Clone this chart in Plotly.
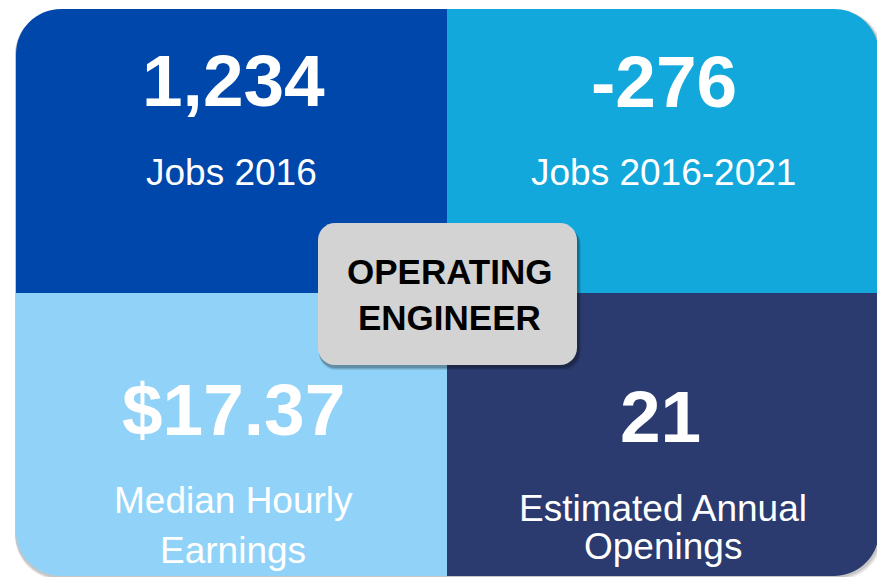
import plotly.graph_objects as go

# ---- data ----
values = ["1,234", "-276", "$17.37", "21"]
labels = [["Jobs 2016"], ["Jobs 2016-2021"], ["Median Hourly", "Earnings"], ["Estimated Annual", "Openings"]]
title_lines = ["OPERATING", "ENGINEER"]
colors = ["#0047AB", "#12A8DC", "#91D3F8", "#2B3B70"]

# ---- layout constants (page pixel space) ----
W, H = 885, 577
PAD = 8  # default page body margin
L, T, R, B = 16, 9, 879, 576
MX, MY = 447, 293
RAD = 45
K = 0.5523

FONT = "Liberation Sans, Arial, sans-serif"


def quad_path(x0, y0, x1, y1, corner, r):
    c = r * (1 - K)
    if corner == "tl":
        return (f"M {x0},{y1} L {x0},{y0+r} C {x0},{y0+c} {x0+c},{y0} {x0+r},{y0} "
                f"L {x1},{y0} L {x1},{y1} Z")
    if corner == "tr":
        return (f"M {x0},{y0} L {x1-r},{y0} C {x1-c},{y0} {x1},{y0+c} {x1},{y0+r} "
                f"L {x1},{y1} L {x0},{y1} Z")
    if corner == "bl":
        return (f"M {x0},{y0} L {x1},{y0} L {x1},{y1} L {x0+r},{y1} "
                f"C {x0+c},{y1} {x0},{y1-c} {x0},{y1-r} Z")
    return (f"M {x0},{y0} L {x1},{y0} L {x1},{y1-r} C {x1},{y1-c} {x1-c},{y1} {x1-r},{y1} "
            f"L {x0},{y1} Z")


def rrect(x0, y0, x1, y1, r):
    c = r * (1 - K)
    return (f"M {x0+r},{y0} L {x1-r},{y0} C {x1-c},{y0} {x1},{y0+c} {x1},{y0+r} "
            f"L {x1},{y1-r} C {x1},{y1-c} {x1-c},{y1} {x1-r},{y1} "
            f"L {x0+r},{y1} C {x0+c},{y1} {x0},{y1-c} {x0},{y1-r} "
            f"L {x0},{y0+r} C {x0},{y0+c} {x0+c},{y0} {x0+r},{y0} Z")


shapes = []
for off, a in [(4, 0.06), (3, 0.08), (2, 0.10)]:
    shapes.append(dict(type="path", path=rrect(L - 1, T + 1, R + off, B + off, RAD),
                       fillcolor=f"rgba(0,0,0,{a})", line=dict(width=0), layer="below"))

quads = [(L, T, MX, MY, "tl"), (MX, T, R, MY, "tr"), (L, MY, MX, B, "bl"), (MX, MY, R, B, "br")]
for (x0, y0, x1, y1, c), col in zip(quads, colors):
    shapes.append(dict(type="path", path=quad_path(x0, y0, x1, y1, c, RAD),
                       fillcolor=col, line=dict(width=0), layer="below"))

bx0, by0, bx1, by1 = 318, 223, 577, 365
for off, a in [(5, 0.10), (4, 0.12), (3, 0.15)]:
    shapes.append(dict(type="path", path=rrect(bx0 + 1, by0 + off, bx1 + off - 1, by1 + off, 17),
                       fillcolor=f"rgba(0,0,0,{a})", line=dict(width=0), layer="below"))
shapes.append(dict(type="path", path=rrect(bx0, by0, bx1, by1, 17),
                   fillcolor="#D3D3D3", line=dict(width=0), layer="below"))

value_pos = [(233, 80), (664, 81), (233, 409), (660, 416)]
label_pos = [[(231, 172)], [(663, 172)], [(233, 500), (233, 550)], [(663, 508), (663, 546)]]
title_pos = [(449, 271), (449, 317)]

annotations = []
for v, (x, y) in zip(values, value_pos):
    annotations.append(dict(x=x, y=y, text=f"<b>{v}</b>", showarrow=False,
                            xanchor="center", yanchor="middle",
                            font=dict(family=FONT, size=73, color="white")))
for lines, poss in zip(labels, label_pos):
    for t, (x, y) in zip(lines, poss):
        annotations.append(dict(x=x, y=y, text=t, showarrow=False,
                                xanchor="center", yanchor="middle",
                                font=dict(family=FONT, size=37, color="white")))
for t, (x, y) in zip(title_lines, title_pos):
    annotations.append(dict(x=x, y=y, text=f"<b>{t}</b>", showarrow=False,
                            xanchor="center", yanchor="middle",
                            font=dict(family=FONT, size=35, color="black")))

fig = go.Figure()
fig.update_layout(
    width=W - PAD, height=H - PAD, margin=dict(l=0, r=0, t=0, b=0),
    paper_bgcolor="white", plot_bgcolor="white",
    xaxis=dict(range=[PAD, W], visible=False, fixedrange=True),
    yaxis=dict(range=[H, PAD], visible=False, fixedrange=True),
    shapes=shapes, annotations=annotations, showlegend=False,
)
fig.write_html("out.html", config={"displayModeBar": False})
